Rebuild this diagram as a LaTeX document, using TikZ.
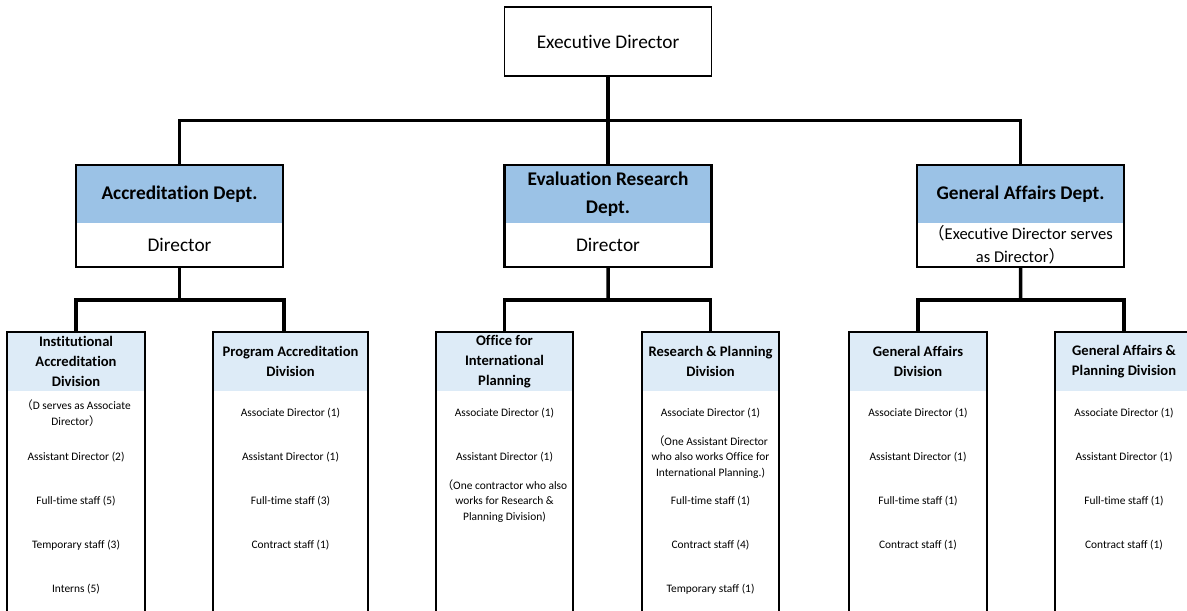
\documentclass[tikz,border=0pt]{standalone}
\usepackage{fontspec}
\setmainfont{Carlito}[Ligatures=NoCommon]
\newfontfamily\cjk{Noto Sans CJK JP}
\usepackage{xcolor}
\usetikzlibrary{positioning,fit,calc}
\definecolor{deptBlue}{RGB}{155,194,230}
\definecolor{divBlue}{RGB}{221,235,247}

\begin{document}
\begin{tikzpicture}[
    font=\fontsize{11}{15}\selectfont,
    topBox/.style={
        rectangle, draw=black, line width=1.1pt, fill=white,
        minimum width=4.14cm, minimum height=1.38cm, inner sep=0pt
    },
    deptHead/.style={
        rectangle, fill=deptBlue, minimum width=4.14cm, minimum height=1.16cm,
        inner sep=0pt, outer sep=0pt, align=center, font=\fontsize{11}{16}\selectfont\bfseries
    },
    deptBody/.style={
        rectangle, fill=white, minimum width=4.14cm, minimum height=0.88cm,
        inner sep=0pt, outer sep=0pt, align=center
    },
    deptFrame/.style={
        rectangle, draw=black, line width=1.3pt, inner sep=0pt
    },
    divHead/.style={
        rectangle, fill=divBlue, minimum width=#1, minimum height=1.18cm,
        inner sep=0pt, outer sep=0pt, align=center, font=\fontsize{8.3}{11.2}\selectfont\bfseries
    },
    divHead/.default=2.76cm,
    divFrame/.style={line width=1.3pt, draw=black},
    staffItem/.style={align=center, inner sep=1pt, font=\fontsize{6.5}{9}\selectfont},
    orgLink/.style={line width=2pt, draw=black}
]

% Page frame (division boxes run past the bottom edge)
\clip (0,0) rectangle (23.74,-12.2);
\useasboundingbox (0,0) rectangle (23.74,-12.2);
\coordinate (pageBottom) at (0,-12.5);

% Level 0: Executive Director
\node[topBox] (exec) at (12.16,-0.83) {Executive Director};

% Level 1: Departments
\node[deptHead] (accrHead) at (3.59,-3.88) {Accreditation Dept.};
\node[deptBody, below=0pt of accrHead] (accrBody) {Director};
\node[deptFrame, fit=(accrHead)(accrBody)] (accrDept) {};

\node[deptHead] (evalHead) at (12.16,-3.88) {Evaluation Research\\Dept.};
\node[deptBody, below=0pt of evalHead] (evalBody) {Director};
\node[deptFrame, fit=(evalHead)(evalBody)] (evalDept) {};

\node[deptHead] (gaHead) at (20.41,-3.88) {General Affairs Dept.};
\node[deptBody, below=0pt of gaHead, font=\fontsize{9.4}{13}\selectfont] (gaBody) {{\cjk （}Executive Director serves\\as Director{\cjk ）}};
\node[deptFrame, fit=(gaHead)(gaBody)] (gaDept) {};

% Lines from Executive Director to Departments
\draw[orgLink] (exec.south) -- (evalDept.north);
\draw[orgLink] (accrDept.north) |- ($(exec.south)!.5!(evalDept.north)$) -| (gaDept.north);

% Level 2: Divisions (headers)
\node[divHead] (instHead) at (1.52,-7.23) {Institutional\\Accreditation\\Division};
\node[divHead=3.1cm] (progHead) at (5.81,-7.23) {Program Accreditation\\Division};
\node[divHead=2.74cm] (officeHead) at (10.09,-7.23) {Office for\\International\\Planning};
\node[divHead=2.74cm] (resHead) at (14.21,-7.23) {Research \& Planning\\Division};
\node[divHead] (gaDivHead) at (18.36,-7.23) {General Affairs\\Division};
\node[divHead] (gapHead) at (22.48,-7.23) {General Affairs \&\\Planning Division};

% Open frames of the division boxes
\foreach \d in {instHead,progHead,officeHead,resHead,gaDivHead,gapHead}
    \draw[divFrame] (\d.south west |- pageBottom) -- (\d.north west) -- (\d.north east) -- (\d.south east |- pageBottom);

% Lines from Departments to Divisions
\draw[orgLink] (accrDept.south) -- ($(accrDept.south)!.5!(accrDept.south |- instHead.north)$) coordinate (accrBus);
\draw[orgLink] (instHead.north) |- (accrBus) -| (accrDept.south east |- progHead.north);

\draw[orgLink] (evalDept.south) -- ($(evalDept.south)!.5!(evalDept.south |- officeHead.north)$) coordinate (evalBus);
\draw[orgLink] (officeHead.north) |- (evalBus) -| (resHead.north);

\draw[orgLink] (gaDept.south) -- ($(gaDept.south)!.5!(gaDept.south |- gaDivHead.north)$) coordinate (gaBus);
\draw[orgLink] (gaDivHead.north) |- (gaBus) -| (gapHead.north);

% Staff of each division
\foreach \txt [count=\i] in {{{\cjk （}D serves as Associate\\Director{\cjk ）}}, Assistant Director (2), Full-time staff (5), Temporary staff (3), Interns (5)}
    \node[staffItem] (inst-\i) at ($(instHead.south)+(0,{-0.44-0.88*(\i-1)})$) {\txt};

\foreach \txt [count=\i] in {Associate Director (1), Assistant Director (1), Full-time staff (3), Contract staff (1)}
    \node[staffItem] (prog-\i) at ($(progHead.south)+(0,{-0.44-0.88*(\i-1)})$) {\txt};

\foreach \txt [count=\i] in {Associate Director (1), Assistant Director (1), {{\cjk （}One contractor who also\\works for Research \&\\Planning Division)}}
    \node[staffItem] (office-\i) at ($(officeHead.south)+(0,{-0.44-0.88*(\i-1)})$) {\txt};

\foreach \txt [count=\i] in {Associate Director (1), {{\cjk （}One Assistant Director\\who also works Office for\\International Planning.)}, Full-time staff (1), Contract staff (4), Temporary staff (1)}
    \node[staffItem] (res-\i) at ($(resHead.south)+(0,{-0.44-0.88*(\i-1)})$) {\txt};

\foreach \txt [count=\i] in {Associate Director (1), Assistant Director (1), Full-time staff (1), Contract staff (1)}
    \node[staffItem] (gaDiv-\i) at ($(gaDivHead.south)+(0,{-0.44-0.88*(\i-1)})$) {\txt};

\foreach \txt [count=\i] in {Associate Director (1), Assistant Director (1), Full-time staff (1), Contract staff (1)}
    \node[staffItem] (gap-\i) at ($(gapHead.south)+(0,{-0.44-0.88*(\i-1)})$) {\txt};

\end{tikzpicture}
\end{document}
